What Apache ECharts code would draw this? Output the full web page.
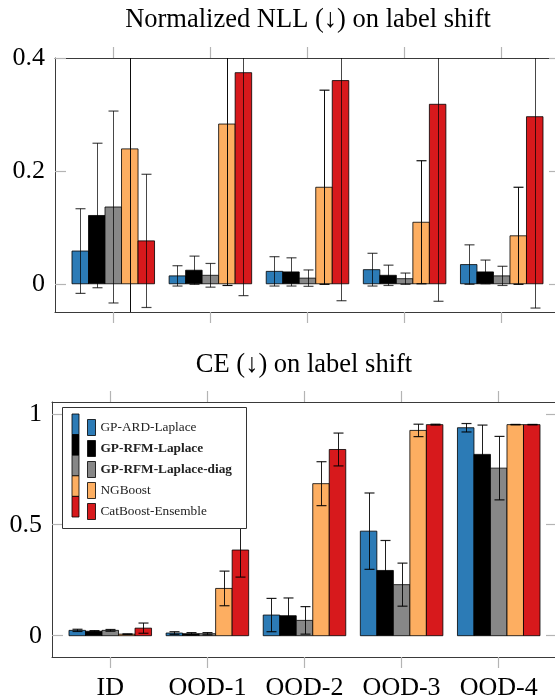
<!DOCTYPE html>
<html><head><meta charset="utf-8">
<script src="https://cdn.jsdelivr.net/npm/echarts@6/dist/echarts.min.js"></script>
<style>html,body{margin:0;padding:0;background:#fff}#c{width:555px;height:698px}</style>
</head><body><div id="c"></div>
<script>
// ---------- data ----------
const categories = ['ID', 'OOD-1', 'OOD-2', 'OOD-3', 'OOD-4'];
const methods = ['GP-ARD-Laplace', 'GP-RFM-Laplace', 'GP-RFM-Laplace-diag', 'NGBoost', 'CatBoost-Ensemble'];
const boldMethods = ['GP-RFM-Laplace', 'GP-RFM-Laplace-diag'];

// Normalized NLL: mean and std per method, over categories
const nllArd = [0.058, 0.014, 0.022, 0.025, 0.034];
const nllArdStd = [0.075, 0.018, 0.026, 0.029, 0.035];
const nllRfm = [0.121, 0.024, 0.021, 0.015, 0.021];
const nllRfmStd = [0.128, 0.025, 0.025, 0.018, 0.021];
const nllRfmDiag = [0.136, 0.015, 0.010, 0.009, 0.014];
const nllRfmDiagStd = [0.170, 0.021, 0.0145, 0.010, 0.017];
const nllNgb = [0.239, 0.283, 0.171, 0.109, 0.085];
const nllNgbStd = [0.450, 0.286, 0.172, 0.109, 0.086];
const nllCat = [0.076, 0.374, 0.360, 0.318, 0.296];
const nllCatStd = [0.118, 0.395, 0.390, 0.349, 0.339];

// CE: mean and std per method, over categories
const ceArd = [0.024, 0.012, 0.093, 0.471, 0.937];
const ceArdStd = [0.005, 0.006, 0.075, 0.172, 0.019];
const ceRfm = [0.020, 0.009, 0.090, 0.294, 0.817];
const ceRfmStd = [0.003, 0.005, 0.080, 0.135, 0.132];
const ceRfmDiag = [0.024, 0.009, 0.069, 0.230, 0.755];
const ceRfmDiagStd = [0.004, 0.005, 0.062, 0.097, 0.143];
const ceNgb = [0.007, 0.213, 0.685, 0.925, 0.951];
const ceNgbStd = [0.001, 0.078, 0.099, 0.028, 0.001];
const ceCat = [0.034, 0.386, 0.839, 0.951, 0.951];
const ceCatStd = [0.023, 0.122, 0.074, 0.002, 0.001];

// tick values / labels
const nllTicks = [0, 0.2, 0.4];
const nllTickLabels = ['0', '0.2', '0.4'];
const ceTicks = [0, 0.5, 1];
const ceTickLabels = ['0', '0.5', '1'];
const catTicks = [0, 1, 2, 3, 4];

const nllTitle = 'Normalized NLL (\u2193) on label shift';
const ceTitle = 'CE (\u2193) on label shift';

// ---------- styles ----------
const colors = ['#2c7bb6', '#000000', '#878787', '#fdae61', '#d7191c'];
const errTop = ['rgba(0,0,0,0.72)', 'rgba(0,0,0,0.72)', 'rgba(0,0,0,0.72)', 'rgba(0,0,0,0.95)', 'rgba(0,0,0,0.72)'];
const errBot = ['rgba(0,0,0,0.88)', 'rgba(0,0,0,0.88)', 'rgba(0,0,0,0.88)', 'rgba(0,0,0,0.88)', 'rgba(0,0,0,0.88)'];
const FONT = '"Liberation Serif", "Times New Roman", serif';
const BAR_UNITS = 0.17;
const CAP = 5;
const FRAME = '#3a3a3a';
const TICK = '#b4b4b4';

const nllMeans = [nllArd, nllRfm, nllRfmDiag, nllNgb, nllCat];
const nllStds = [nllArdStd, nllRfmStd, nllRfmDiagStd, nllNgbStd, nllCatStd];
const ceMeans = [ceArd, ceRfm, ceRfmDiag, ceNgb, ceCat];
const ceStds = [ceArdStd, ceRfmStd, ceRfmDiagStd, ceNgbStd, ceCatStd];

function makeSeries(idx, means, stds, axisIndex, errColor) {
  return {
    type: 'custom',
    name: methods[idx],
    xAxisIndex: axisIndex,
    yAxisIndex: axisIndex,
    clip: true,
    z: 2,
    itemStyle: { color: colors[idx] },
    encode: { x: 0, y: 1 },
    data: means.map((m, i) => [i, m, stds[i]]),
    renderItem(params, api) {
      const c = api.value(0), m = api.value(1), s = api.value(2);
      const off = (idx - 2) * BAR_UNITS;
      const pl = api.coord([c + off - BAR_UNITS / 2, 0]);
      const pr = api.coord([c + off + BAR_UNITS / 2, m]);
      const pc = api.coord([c + off, m + s]);
      const pb = api.coord([c + off, m - s]);
      const cx = Math.round((pl[0] + pr[0]) / 2) + 0.5;
      const ec = errColor[idx];
      return {
        type: 'group',
        children: [
          { type: 'rect', shape: { x: pl[0], y: pr[1], width: pr[0] - pl[0], height: pl[1] - pr[1] },
            style: { fill: colors[idx], stroke: 'rgba(0,0,0,0.8)', lineWidth: 1 } },
          { type: 'line', shape: { x1: cx, y1: pc[1], x2: cx, y2: pb[1] }, style: { stroke: ec, lineWidth: 1 } },
          { type: 'line', shape: { x1: cx - CAP, y1: pc[1], x2: cx + CAP, y2: pc[1] }, style: { stroke: ec, lineWidth: 1.2 } },
          { type: 'line', shape: { x1: cx - CAP, y1: pb[1], x2: cx + CAP, y2: pb[1] }, style: { stroke: ec, lineWidth: 1.2 } }
        ]
      };
    }
  };
}

function xAxisDef(gridIndex, position, showLabels) {
  return {
    type: 'value', gridIndex, position, min: -0.6, max: 4.6,
    axisLine: { show: true, onZero: false, lineStyle: { color: FRAME, width: 1 } },
    splitLine: { show: false },
    axisTick: { show: true, customValues: catTicks, inside: false, length: 11, lineStyle: { color: TICK, width: 1.2 } },
    axisLabel: { show: showLabels, customValues: catTicks, margin: 18, fontFamily: FONT, fontSize: 26, color: '#000',
      formatter: v => categories[Math.round(v)] }
  };
}
function yAxisDef(gridIndex, position, min, max, ticks, labels, showLabels) {
  return {
    type: 'value', gridIndex, position, min, max,
    axisLine: { show: true, onZero: false, lineStyle: { color: FRAME, width: 1 } },
    splitLine: { show: false },
    axisTick: { show: true, customValues: ticks, inside: true, length: 11, lineStyle: { color: TICK, width: 1.2 } },
    axisLabel: { show: showLabels, customValues: ticks, margin: 10, fontFamily: FONT, fontSize: 26, color: '#000',
      formatter: v => labels[ticks.findIndex(t => Math.abs(t - v) < 1e-9)] }
  };
}

const series = [];
for (let i = 0; i < 5; i++) series.push(makeSeries(i, nllMeans[i], nllStds[i], 0, errTop));
for (let i = 0; i < 5; i++) series.push(makeSeries(i, ceMeans[i], ceStds[i], 2, errBot));

const legendStack = colors.map((c, i) => ({
  type: 'rect', z: 6,
  shape: { x: 72, y: 414 + i * 20.6, width: 7, height: 20.6 },
  style: { fill: c, stroke: 'rgba(0,0,0,0.8)', lineWidth: 1 }
}));

const option = {
  animation: false,
  backgroundColor: '#fff',
  grid: [
    { left: 55, top: 58, width: 505, height: 254, show: false, outerBoundsMode: 'none' },
    { left: 52, top: 402, width: 505, height: 255, show: false, outerBoundsMode: 'none' }
  ],
  xAxis: [
    xAxisDef(0, 'bottom', false), xAxisDef(0, 'top', false),
    xAxisDef(1, 'bottom', true), xAxisDef(1, 'top', false)
  ],
  yAxis: [
    yAxisDef(0, 'left', -0.05, 0.4, nllTicks, nllTickLabels, true),
    yAxisDef(0, 'right', -0.05, 0.4, nllTicks, nllTickLabels, false),
    yAxisDef(1, 'left', -0.096, 1.053, ceTicks, ceTickLabels, true),
    yAxisDef(1, 'right', -0.096, 1.053, ceTicks, ceTickLabels, false)
  ],
  legend: {
    orient: 'vertical', left: 87, top: 419, padding: 0,
    itemWidth: 8, itemHeight: 16, itemGap: 4, selectedMode: false, z: 8,
    data: methods.map(n => ({ name: n, icon: 'rect' })),
    itemStyle: { borderColor: 'rgba(0,0,0,0.8)', borderWidth: 1 },
    textStyle: { fontFamily: FONT, fontSize: 13.3, color: '#222',
      rich: { b: { fontFamily: FONT, fontSize: 13.3, fontWeight: 'bold', color: '#222' },
              n: { fontFamily: FONT, fontSize: 13.3, color: '#222' } } },
    formatter: n => boldMethods.includes(n) ? '{b|' + n + '}' : '{n|' + n + '}'
  },
  graphic: [
    { type: 'text', z: 6, x: 308, y: 20, style: { text: nllTitle, font: '26.5px ' + FONT, fill: '#000', align: 'center', verticalAlign: 'middle' } },
    { type: 'text', z: 6, x: 304, y: 365, style: { text: ceTitle, font: '26.5px ' + FONT, fill: '#000', align: 'center', verticalAlign: 'middle' } },
    { type: 'rect', z: 5, shape: { x: 62.5, y: 407.5, width: 184, height: 121 }, style: { fill: '#fff', stroke: '#333', lineWidth: 1 } },
    ...legendStack
  ],
  series
};

const chart = echarts.init(document.getElementById('c'), null, { renderer: 'canvas' });
chart.setOption(option);
</script>
</body></html>
